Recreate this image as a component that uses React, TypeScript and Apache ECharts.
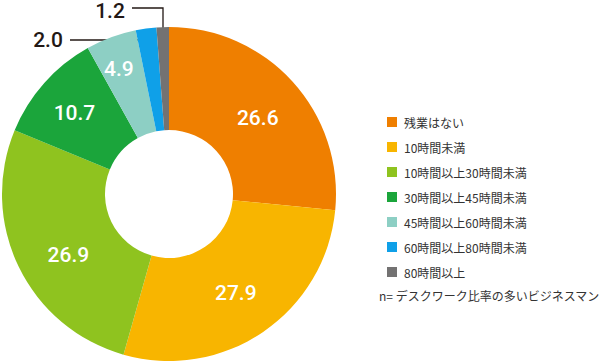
import React, { useEffect, useRef } from "react";
import * as echarts from "echarts";

const categories = [
  "残業はない",
  "10時間未満",
  "10時間以上30時間未満",
  "30時間以上45時間未満",
  "45時間以上60時間未満",
  "60時間以上80時間未満",
  "80時間以上",
];
const values = [26.6, 27.9, 26.9, 10.7, 4.9, 2.0, 1.2];
const colors = ["#EF7F00", "#F8B500", "#8FC31F", "#1BA53B", "#8DCFC4", "#0FA0E8", "#737272"];
const outsideIndices = [5, 6];
const note = "n= デスクワーク比率の多いビジネスマン";

// small nudges of inside labels, to match the reference placement
const labelNudge: [number, number][] = [
  [1, 4],
  [0, 1],
  [6, 9],
  [-6, -2],
  [-9, -14],
];

export default function App() {
  const ref = useRef<HTMLDivElement>(null);
  useEffect(() => {
    document.body.style.margin = "0";
    const chart = echarts.init(ref.current!, null, { renderer: "svg" });
    const data = values.map((v, i) => {
      const outside = outsideIndices.includes(i);
      return {
        name: categories[i],
        value: v,
        itemStyle: { color: colors[i] },
        label: outside
          ? {
              position: "outside",
              color: "#231815",
              fontSize: 21,
              fontWeight: 500,
            }
          : { position: "inside" },
        labelLine: outside ? { show: true, lineStyle: { color: "#231815", width: 1.3 } } : { show: false },
      };
    });
    chart.setOption({
      animation: false,
      legend: {
        orient: "vertical",
        left: 382,
        top: 110,
        itemWidth: 10,
        itemHeight: 10,
        itemGap: 11,
        icon: "rect",
        data: categories,
        textStyle: {
          fontFamily: "Noto Sans CJK JP",
          fontSize: 12,
          color: "#333",
          lineHeight: 14,
          padding: [0, 0, 0, 2],
        },
      },
      graphic: [
        {
          type: "text",
          left: 379,
          top: 289,
          style: {
            text: note,
            fontFamily: "Noto Sans CJK JP",
            fontSize: 12,
            fill: "#333",
          },
        },
      ],
      series: [
        {
          type: "pie",
          center: [169, 194],
          radius: [64, 167],
          startAngle: 90,
          clockwise: true,
          avoidLabelOverlap: false,
          label: {
            show: true,
            formatter: (p: any) => p.value.toFixed(1),
            color: "#fff",
            fontFamily: "Roboto",
            fontWeight: 500,
            fontSize: 21,
          },
          labelLayout: (p: any) => {
            if (p.dataIndex === 5) {
              return {
                x: 48,
                y: 40,
                align: "center",
                verticalAlign: "middle",
                labelLinePoints: [
                  [146, 40],
                  [108, 40],
                  [70, 40],
                ],
              };
            }
            if (p.dataIndex === 6) {
              return {
                x: 110,
                y: 11,
                align: "center",
                verticalAlign: "middle",
                labelLinePoints: [
                  [163, 45],
                  [163, 8],
                  [132, 8],
                ],
              };
            }
            const n = labelNudge[p.dataIndex];
            return n ? { dx: n[0], dy: n[1] } : {};
          },
          data,
        },
      ],
    });
    return () => chart.dispose();
  }, []);
  return <div ref={ref} style={{ width: 600, height: 364 }} />;
}
